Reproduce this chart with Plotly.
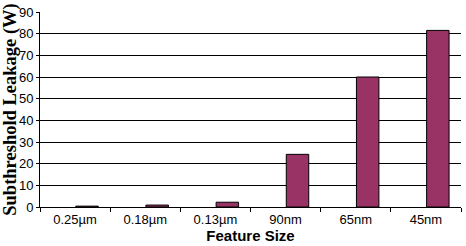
import plotly.graph_objects as go

categories = ["0.25\u00b5m", "0.18\u00b5m", "0.13\u00b5m", "90nm", "65nm", "45nm"]
leakage = [0.4, 0.9, 2.2, 24.3, 60, 81.5]
y_ticks = [0, 10, 20, 30, 40, 50, 60, 70, 80, 90]

fig = go.Figure()
fig.add_trace(go.Bar(
    x=categories, y=leakage,
    marker=dict(color="#993366", line=dict(color="black", width=1)),
    width=0.32, offset=0.01,
))
fig.update_layout(
    width=466, height=246,
    margin=dict(l=38, r=5, t=12, b=39),
    paper_bgcolor="white", plot_bgcolor="white",
    showlegend=False,
    font=dict(family="Arial, Liberation Sans, sans-serif", size=13, color="black"),
)
fig.update_xaxes(
    showline=True, linecolor="black", linewidth=1,
    ticks="outside", ticklen=4, tickcolor="black", tickson="boundaries",
    showgrid=False,
    title=dict(text="<b>Feature Size</b>", standoff=2,
               font=dict(family="Liberation Sans Narrow, Arial Narrow, sans-serif", size=15)),
)
fig.update_yaxes(
    range=[0, 90], tickvals=y_ticks,
    showline=True, linecolor="black", linewidth=1,
    ticks="outside", ticklen=3, tickcolor="black",
    showgrid=True, gridcolor="black", gridwidth=1,
    zeroline=False,
    title=dict(text="<b>Subthreshold Leakage (W)</b>", standoff=1,
               font=dict(family="Liberation Serif, Times New Roman, serif", size=18.5)),
)
fig.write_html("out.html")
